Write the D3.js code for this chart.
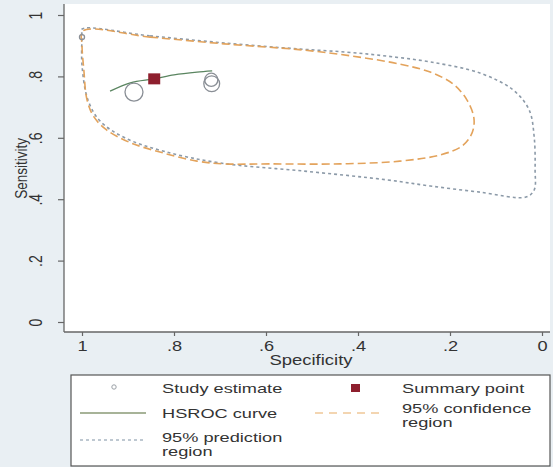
<!doctype html>
<html>
<head>
<meta charset="utf-8">
<script src="https://d3js.org/d3.v7.min.js"></script>
<style>
  body { margin: 0; background: #e9eff3; }
  text { font-family: "Liberation Sans", Arial, sans-serif; fill: #333; }
</style>
</head>
<body>
<script>
  var w = 553, h = 467;

  // study estimates (specificity, sensitivity, weight)
  var studySpec = [1.0, 0.887, 0.719, 0.718];
  var studySens = [0.928, 0.749, 0.789, 0.776];
  var studyWeight = [6, 75, 40, 58];

  // summary point
  var summarySpec = 0.843, summarySens = 0.792;

  // HSROC curve
  var hsrocSpec = [0.939, 0.895, 0.843, 0.800, 0.750, 0.717];
  var hsrocSens = [0.752, 0.779, 0.792, 0.805, 0.814, 0.818];

  // 95% confidence region
  var confSpec = [0.998, 0.852, 0.691, 0.520, 0.411, 0.309, 0.243, 0.193, 0.163, 0.148, 0.152, 0.174, 0.222, 0.309, 0.439, 0.591, 0.691, 0.750, 0.822, 0.893, 0.946, 0.974, 0.989, 0.996, 1.0];
  var confSens = [0.948, 0.928, 0.906, 0.886, 0.866, 0.840, 0.814, 0.775, 0.723, 0.664, 0.616, 0.573, 0.544, 0.524, 0.515, 0.515, 0.515, 0.524, 0.550, 0.583, 0.625, 0.668, 0.723, 0.821, 0.902];

  // 95% prediction region
  var predSpec = [1.0, 0.852, 0.691, 0.526, 0.424, 0.337, 0.243, 0.135, 0.063, 0.028, 0.017, 0.015, 0.017, 0.035, 0.135, 0.243, 0.337, 0.520, 0.700, 0.822, 0.907, 0.961, 0.987, 1.0, 1.0];
  var predSens = [0.954, 0.932, 0.909, 0.889, 0.879, 0.866, 0.847, 0.811, 0.756, 0.691, 0.603, 0.495, 0.430, 0.407, 0.423, 0.443, 0.463, 0.492, 0.518, 0.556, 0.600, 0.655, 0.723, 0.837, 0.935];

  var xTicks = [1, 0.8, 0.6, 0.4, 0.2, 0];
  var yTicks = [0, 0.2, 0.4, 0.6, 0.8, 1];

  var fmt = function(d){ return d === 0 || d === 1 ? String(d) : String(d).replace(/^0/, ""); };

  var x = d3.scaleLinear().domain([1, 0]).range([82, 542]);
  var y = d3.scaleLinear().domain([0, 1]).range([322, 15]);
  var r = d3.scaleSqrt().domain([0, 75]).range([0, 9]);

  var svg = d3.select("body").append("svg")
    .attr("width", w)
    .attr("height", h);

  svg.append("rect").attr("width", w).attr("height", h).attr("fill", "#e9eff3");
  // plot region
  svg.append("rect")
    .attr("x", 64).attr("y", 4).attr("width", 486).attr("height", 328)
    .attr("fill", "#fff");

  // axes
  var yAxis = svg.append("g").attr("transform", "translate(64,0)")
    .call(d3.axisLeft(y).tickValues(yTicks).tickFormat(fmt).tickSize(6));
  var xAxis = svg.append("g").attr("transform", "translate(0,332)")
    .call(d3.axisBottom(x).tickValues(xTicks).tickFormat(fmt).tickSize(4).tickPadding(5));

  [xAxis, yAxis].forEach(function(a){
    a.select(".domain").attr("stroke", "#666").attr("stroke-width", 1.3);
    a.selectAll(".tick line").attr("stroke", "#666").attr("stroke-width", 1.2);
    a.selectAll("text").style("font-size", "14px").attr("fill", "#333");
  });
  yAxis.select(".domain").attr("d", "M0,4V332");
  xAxis.select(".domain").attr("d", "M64,0H550");
  xAxis.selectAll(".tick text").attr("transform", "scale(1.3,1)");
  yAxis.selectAll(".tick text")
    .attr("x", null).attr("dy", null)
    .attr("text-anchor", "middle")
    .attr("transform", "translate(-28,0) scale(1.3,1) rotate(-90)")
    .attr("dy", "0.35em");

  svg.append("text")
    .attr("transform", "translate(21," + ((y(0) + y(1)) / 2) + ") scale(1.2,1) rotate(-90)")
    .attr("text-anchor", "middle").attr("dy", "0.35em")
    .style("font-size", "13.5px")
    .text("Sensitivity");
  svg.append("text")
    .attr("transform", "translate(311,360) scale(1.32,1)")
    .attr("text-anchor", "middle").attr("dy", "0.35em")
    .style("font-size", "14px")
    .text("Specificity");

  var region = d3.line()
    .x(function(d){ return x(d[0]); })
    .y(function(d){ return y(d[1]); })
    .curve(d3.curveCatmullRomClosed.alpha(0.5));

  var predData = predSpec.map(function(s, i){ return [s, predSens[i]]; });
  var confData = confSpec.map(function(s, i){ return [s, confSens[i]]; });
  var hsrocData = hsrocSpec.map(function(s, i){ return [s, hsrocSens[i]]; });

  var hsrocColor = "#5a8560";
  var summaryColor = "#8e1f2e";

  svg.append("path").datum(predData)
    .attr("d", region)
    .attr("fill", "none")
    .attr("stroke", "#8c9aa8")
    .attr("stroke-width", 1.6)
    .attr("stroke-dasharray", "3,3");

  svg.append("path").datum(confData)
    .attr("d", region)
    .attr("fill", "none")
    .attr("stroke", "#e3a35c")
    .attr("stroke-width", 1.6)
    .attr("stroke-dasharray", "8,4");

  svg.append("path").datum(hsrocData)
    .attr("d", d3.line()
      .x(function(d){ return x(d[0]); })
      .y(function(d){ return y(d[1]); })
      .curve(d3.curveMonotoneX))
    .attr("fill", "none")
    .attr("stroke", hsrocColor)
    .attr("stroke-width", 1.4);

  svg.selectAll("circle.study")
    .data(studySpec)
    .enter().append("circle")
    .attr("class", "study")
    .attr("cx", function(d){ return x(d); })
    .attr("cy", function(d, i){ return y(studySens[i]); })
    .attr("r", function(d, i){ return Math.max(2.5, r(studyWeight[i])); })
    .attr("fill", "none")
    .attr("stroke", "#8a8f96")
    .attr("stroke-width", 1.3);

  svg.append("rect")
    .attr("x", x(summarySpec) - 6).attr("y", y(summarySens) - 5.5)
    .attr("width", 12).attr("height", 11)
    .attr("fill", summaryColor);

  // legend
  var lg = svg.append("g");
  lg.append("rect")
    .attr("x", 71).attr("y", 375).attr("width", 479).attr("height", 91)
    .attr("fill", "#fff").attr("stroke", "#555").attr("stroke-width", 1.2);

  lg.append("circle").attr("cx", 114).attr("cy", 387).attr("r", 2.2)
    .attr("fill", "none").attr("stroke", "#9aa0a6").attr("stroke-width", 1);
  lg.append("line").attr("x1", 80).attr("x2", 146).attr("y1", 413).attr("y2", 413)
    .attr("stroke", "#8a9a76").attr("stroke-width", 1.4);
  lg.append("line").attr("x1", 80).attr("x2", 146).attr("y1", 440).attr("y2", 440)
    .attr("stroke", "#a9b6c2").attr("stroke-width", 1.4).attr("stroke-dasharray", "3,3");
  lg.append("rect").attr("x", 351).attr("y", 384).attr("width", 9).attr("height", 8)
    .attr("fill", summaryColor);
  lg.append("line").attr("x1", 315).attr("x2", 382).attr("y1", 413).attr("y2", 413)
    .attr("stroke", "#f0c898").attr("stroke-width", 1.4).attr("stroke-dasharray", "8,6");

  var labels = [
    { x: 162, y: 388, t: "Study estimate" },
    { x: 162, y: 413, t: "HSROC curve" },
    { x: 162, y: 437, t: "95% prediction" },
    { x: 162, y: 451, t: "region" },
    { x: 402, y: 388, t: "Summary point" },
    { x: 402, y: 408, t: "95% confidence" },
    { x: 402, y: 422, t: "region" }
  ];
  lg.selectAll("text.lab").data(labels).enter().append("text")
    .attr("class", "lab")
    .attr("transform", function(d){ return "translate(" + d.x + "," + d.y + ") scale(1.4,1)"; })
    .attr("dy", "0.35em")
    .style("font-size", "13px")
    .text(function(d){ return d.t; });
</script>
</body>
</html>
